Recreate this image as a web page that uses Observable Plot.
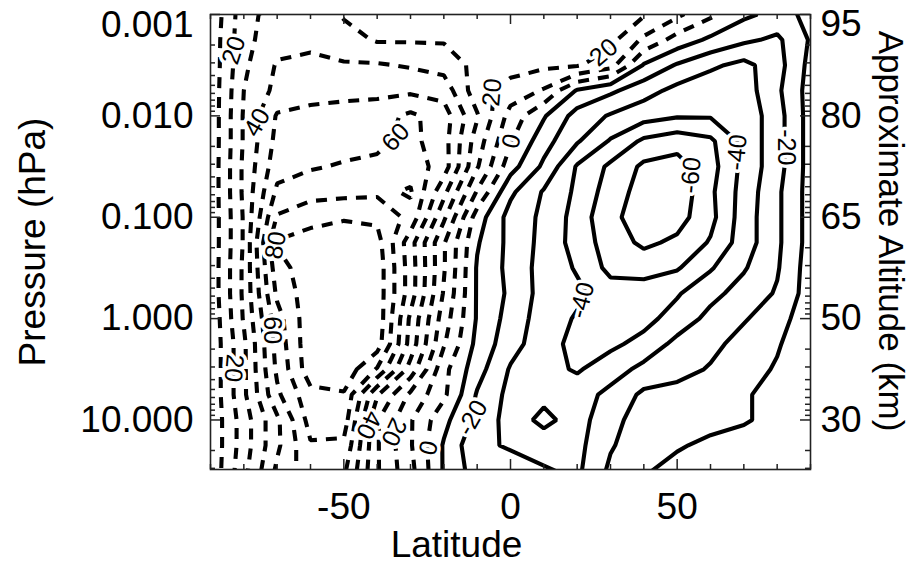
<!DOCTYPE html>
<html>
<head>
<meta charset="utf-8">
<script src="https://cdn.jsdelivr.net/npm/d3@7"></script>
<script src="https://cdn.jsdelivr.net/npm/@observablehq/plot@0.6"></script>
<style>
  html, body { margin: 0; padding: 0; background: #fff; }
  #chart svg { display: block; }
</style>
</head>
<body>
<div id="chart"></div>
<script>
// Zonal-mean zonal wind (m/s) on a latitude × log10(pressure) grid.
const latitudes = [-90, -80, -70, -60, -50, -40, -30, -20, -10, 0, 10, 20, 30, 40, 50, 60, 70, 80, 90];
const logPressure = [-3, -2.75, -2.5, -2.25, -2, -1.75, -1.5, -1.25, -1, -0.75, -0.5, -0.25, 0, 0.25, 0.5, 0.75, 1, 1.25, 1.5];

// One row per pressure level (top = 0.001 hPa), one column per latitude.
const windRows = [
  [2, 26, 35, 37, 29, 28, 27, 26, 25, 25, 24, 23, 22, 21, 12, 2, -8, -13, -8],
  [3, 27, 36, 38, 34, 29, 29, 29, 28, 26, 25, 23, 23, 8, -4, -12, -18, -22, -9],
  [3, 28, 41, 42, 41, 41, 39, 36, 27, 24, 22, 21, 14, -11, -21, -28, -33, -24, -7],
  [3, 30, 43, 46, 47, 47, 48, 46, 24, 16, 9, -11, -18, -26, -33, -37, -35, -22, -6],
  [3, 31, 51, 53, 54, 56, 62, 55, 31, 6, -9, -24, -31, -36, -39, -39, -37, -24, -6],
  [3, 31, 53, 55, 56, 58, 63, 54, 25, 1, -16, -29, -41, -52, -56, -52, -37, -24, -6],
  [3, 32, 56, 59, 61, 62, 66, 55, 21, -6, -22, -41, -52, -62, -64, -54, -37, -24, -6],
  [3, 32, 62, 66, 67, 68, 71, 43, 9, -18, -31, -42, -55, -64, -67, -52, -36, -22, -6],
  [3, 31, 71, 77, 79, 78, 67, 32, -5, -24, -32, -44, -58, -64, -64, -53, -35, -22, -6],
  [3, 31, 81, 84, 86, 84, 54, 21, -9, -23, -33, -44, -55, -62, -58, -49, -35, -22, -6],
  [3, 32, 76, 86, 86, 86, 55, 21, -11, -23, -34, -41, -53, -54, -51, -41, -31, -21, -5],
  [3, 32, 72, 86, 88, 86, 55, 19, -11, -22, -34, -38, -45, -45, -41, -33, -26, -19, -5],
  [2, 31, 66, 87, 89, 87, 48, 15, -11, -24, -35, -41, -45, -43, -36, -27, -21, -14, -4],
  [2, 28, 64, 87, 89, 85, 46, 11, -13, -26, -36, -43, -42, -37, -27, -23, -16, -11, -3],
  [2, 28, 62, 86, 87, 69, 36, 3, -16, -31, -37, -41, -35, -27, -24, -19, -14, -9, -3],
  [2, 28, 58, 77, 79, 41, 18, 2, -21, -33, -37, -35, -27, -18, -16, -14, -11, -7, -3],
  [2, 25, 48, 74, 75, 31, 11, -7, -23, -34, -43, -35, -22, -17, -15, -13, -11, -7, -3],
  [2, 25, 48, 69, 68, 31, 11, -11, -28, -31, -34, -33, -21, -14, -11, -8, -6, -5, -3],
  [2, 27, 52, 66, 62, 31, 13, -11, -25, -26, -29, -32, -18, -11, -7, -6, -5, -4, -3]
];

// Contour levels: zero and above dashed, below zero solid.
const dashedLevels = [0, 10, 20, 30, 40, 50, 60, 70, 80];
const solidLevels = [-60, -50, -40, -30, -20, -10];

// Inline contour labels.
const labelLevel = [20, 40, 60, 80, 60, 20, 40, 20, 0, 0, 20, 20, -20, -40, -60, -40, -20];
const labelLat = [-83, -76, -34.4, -70.4, -71.5, -83, -42.5, -35, -24.5, 0.3, -5.5, 28, -11.4, 21.5, 54.2, 68, 82.6];
const labelPressure = [0.00226, 0.0116, 0.0163, 0.189, 1.30, 3.08, 11.2, 13.1, 18.9, 0.0178, 0.00586, 0.00237, 9.55, 0.658, 0.0385, 0.0229, 0.0204];

// Axes.
const latTicks = [-90, -80, -70, -60, -50, -40, -30, -20, -10, 0, 10, 20, 30, 40, 50, 60, 70, 80, 90];
const latLabels = [-50, 0, 50];
const pressureTicks = [0.001, 0.01, 0.1, 1, 10];
const altitudeLabels = ["95", "80", "65", "50", "30"];
const pressureBottom = 30.8;

const W = 919, H = 567;
const M = {top: 14, right: 109, bottom: 98, left: 210};
const plotW = W - M.left - M.right;
const plotH = H - M.top - M.bottom;

// The vertical axis is log10(pressure), top = 0.001 hPa.
const lg = Math.log10;
const latStep = latitudes[1] - latitudes[0];
const logStep = logPressure[1] - logPressure[0];
const grid = {
  x1: latitudes[0] - latStep / 2,
  x2: latitudes[latitudes.length - 1] + latStep / 2,
  y1: logPressure[0] - logStep / 2,
  y2: logPressure[logPressure.length - 1] + logStep / 2,
  width: latitudes.length,
  height: logPressure.length
};
const values = windRows.flat();

const majorY = pressureTicks.map(lg);
const minorY = pressureTicks
  .flatMap(p => [2, 3, 4, 5, 6, 7, 8, 9].map(k => k * p))
  .filter(p => p <= pressureBottom)
  .map(lg);
const latMinor = latTicks.filter(d => !latLabels.includes(d));

const labelAngle = [-72, -60, -48, -80, 90, 95, 115, 115, -75, -75, -85, -40, -60, -75, -85, -85, 90];
const idx = labelLevel.map((_, i) => i);

const font = "'Liberation Sans', Arial, Helvetica, sans-serif";
const fmt = d3.format(".3f");
const pressureText = v => fmt(10 ** v);
const altitudeText = v => altitudeLabels[Math.round(v) + 3];
const latText = d => `${d}`;
const LINE = 4.1;
const TEXT = 37;

const chart = Plot.plot({
  width: W,
  height: H,
  marginTop: M.top,
  marginRight: M.right,
  marginBottom: M.bottom,
  marginLeft: M.left,
  style: {fontFamily: font, fontSize: `${TEXT}px`, background: "#fff", color: "#000"},
  x: {domain: [-90, 90], axis: null},
  y: {domain: [lg(0.001), lg(pressureBottom)], reverse: true, axis: null},
  marks: [
    Plot.contour(values, {
      ...grid, value: Plot.identity, thresholds: dashedLevels,
      stroke: "#000", strokeWidth: LINE, strokeDasharray: "11,9", fill: "none", clip: true
    }),
    Plot.contour(values, {
      ...grid, value: Plot.identity, thresholds: solidLevels,
      stroke: "#000", strokeWidth: LINE, fill: "none", clip: true
    }),
    Plot.text(idx, {
      x: i => labelLat[i], y: i => lg(labelPressure[i]), text: i => String(labelLevel[i]),
      rotate: i => labelAngle[i], fontSize: 25, fill: "#000",
      stroke: "#fff", strokeWidth: 7, paintOrder: "stroke", clip: true
    }),
    // inward tick marks on all four sides
    Plot.tickX(latLabels, {x: d => d, insetTop: plotH - 10, stroke: "#222", strokeWidth: 1.5}),
    Plot.tickX(latMinor, {x: d => d, insetTop: plotH - 5, stroke: "#222", strokeWidth: 1.5}),
    Plot.tickX(latLabels, {x: d => d, insetBottom: plotH - 10, stroke: "#222", strokeWidth: 1.5}),
    Plot.tickX(latMinor, {x: d => d, insetBottom: plotH - 5, stroke: "#222", strokeWidth: 1.5}),
    Plot.tickY(majorY, {y: d => d, insetRight: plotW - 10, stroke: "#222", strokeWidth: 1.5}),
    Plot.tickY(minorY, {y: d => d, insetRight: plotW - 5, stroke: "#222", strokeWidth: 1.5}),
    Plot.tickY(majorY, {y: d => d, insetLeft: plotW - 10, stroke: "#222", strokeWidth: 1.5}),
    Plot.tickY(minorY, {y: d => d, insetLeft: plotW - 5, stroke: "#222", strokeWidth: 1.5}),
    Plot.frame({stroke: "#222", strokeWidth: 1.6}),
    // tick labels
    Plot.axisX(latLabels, {anchor: "bottom", tickSize: 0, tickPadding: 23, tickFormat: latText, fontSize: TEXT, label: null}),
    Plot.axisY(majorY.slice(1), {anchor: "left", tickSize: 0, tickPadding: 17, tickFormat: pressureText, fontSize: TEXT, label: null}),
    Plot.axisY(majorY.slice(0, 1), {anchor: "left", tickSize: 0, tickPadding: 17, tickFormat: pressureText, fontSize: TEXT, dy: 11, label: null}),
    Plot.axisY(majorY.slice(1), {anchor: "right", tickSize: 0, tickPadding: 10, tickFormat: altitudeText, fontSize: TEXT, label: null}),
    Plot.axisY(majorY.slice(0, 1), {anchor: "right", tickSize: 0, tickPadding: 10, tickFormat: altitudeText, fontSize: TEXT, dy: 10, label: null}),
    // axis titles
    Plot.text(["Pressure (hPa)"], {frameAnchor: "left", textAnchor: "middle", lineAnchor: "middle", dx: -177, rotate: -90, fontSize: TEXT}),
    Plot.text(["Latitude"], {frameAnchor: "bottom", textAnchor: "middle", lineAnchor: "middle", dx: -54, dy: 76, fontSize: TEXT}),
    Plot.text(["Approximate Altitude (km)"], {frameAnchor: "right", textAnchor: "middle", lineAnchor: "middle", dx: 80, dy: -11, rotate: 90, fontSize: 35})
  ]
});

document.getElementById("chart").append(chart);
</script>
</body>
</html>
